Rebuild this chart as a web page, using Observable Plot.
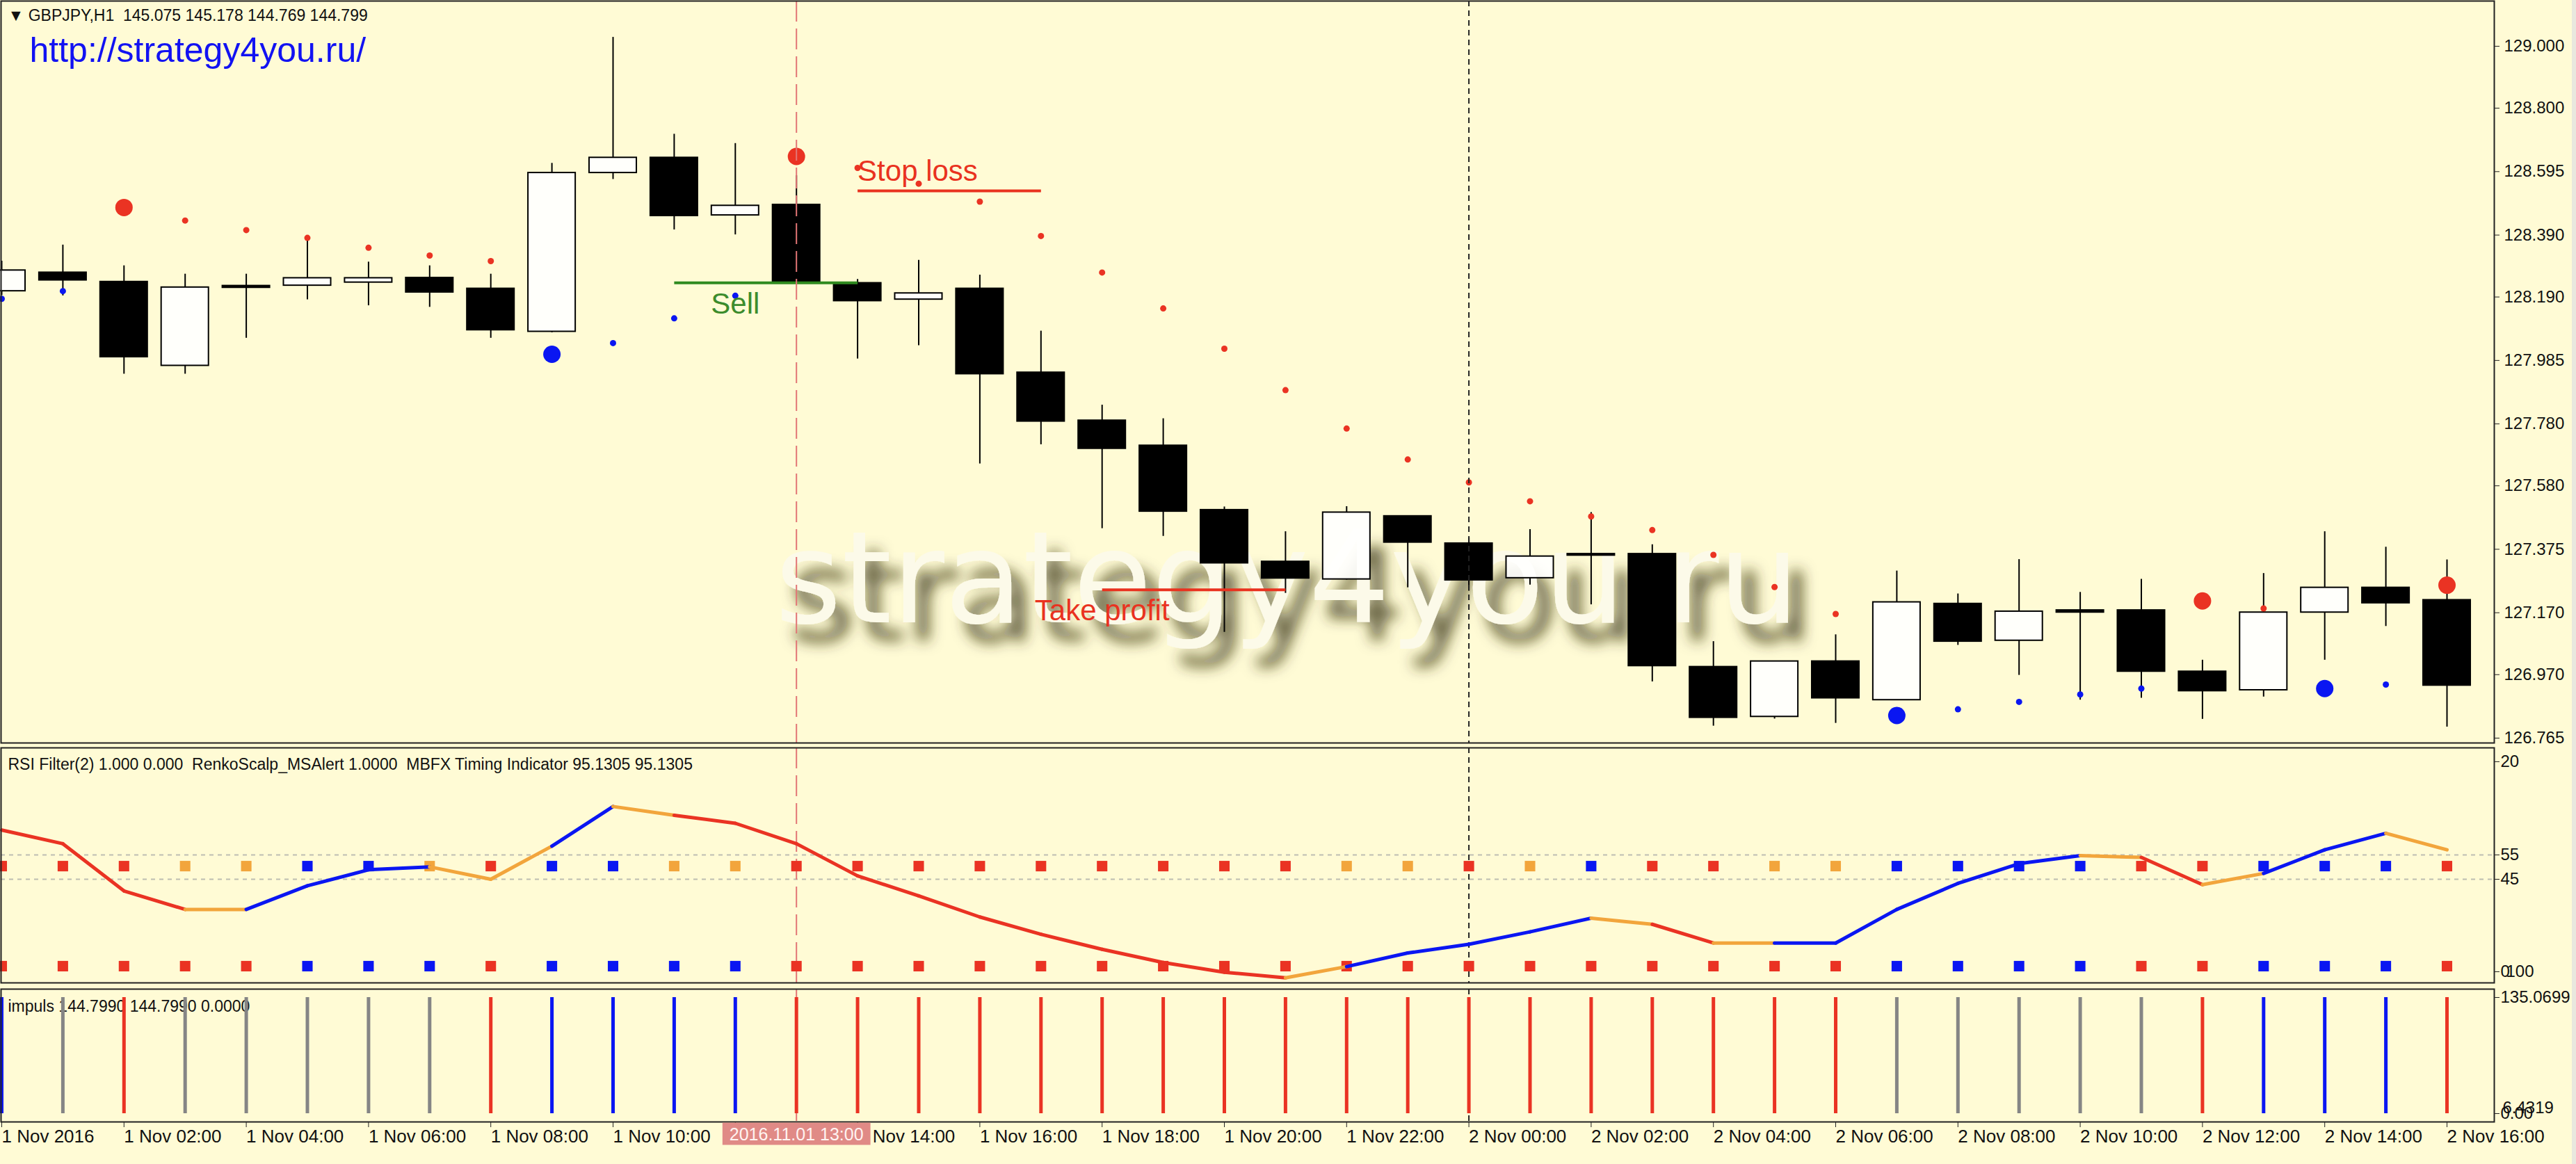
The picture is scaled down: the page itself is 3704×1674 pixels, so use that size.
<!DOCTYPE html>
<html>
<head>
<meta charset="utf-8">
<script src="https://cdn.jsdelivr.net/npm/d3@7"></script>
<script src="https://cdn.jsdelivr.net/npm/@observablehq/plot@0.6"></script>
<style>
  html, body { margin: 0; padding: 0; background: #fffbd5; overflow: hidden; }
  #chart { position: relative; width: 3704px; height: 1674px; background: #fffbd5; }
  #chart svg { display: block; }
  #chart::after { content: ""; position: absolute; right: 0; top: 0; width: 6px; height: 1674px; background: #e9e8de; }
</style>
</head>
<body>
<div id="chart"></div>
<script>
// ---------------- DATA (GBPJPY H1, 1 Nov 2016 00:00 .. 2 Nov 16:00) ----------------
const opens  = [128.209,128.269,128.239,127.968,128.226,128.227,128.237,128.252,128.217,128.078,
                128.591,128.640,128.454,128.488,128.235,128.182,128.217,127.946,127.791,127.710,
                127.502,127.335,127.278,127.482,127.394,127.282,127.360,127.360,126.995,126.834,
                127.013,126.888,127.199,127.080,127.178,127.178,126.980,126.920,127.171,127.251,127.211];
const highs  = [128.306,128.358,128.291,128.264,128.264,128.381,128.303,128.291,128.264,128.622,
                129.029,128.716,128.686,128.582,128.247,128.309,128.261,128.080,127.841,127.797,
                127.512,127.432,127.513,127.482,127.412,127.439,127.494,127.390,127.077,127.013,
                127.099,127.305,127.231,127.342,127.236,127.278,127.017,127.297,127.432,127.382,127.341];
const lows   = [128.195,128.194,127.941,127.941,128.057,128.181,128.162,128.157,128.057,128.075,
                128.570,128.407,128.391,128.236,127.990,128.033,127.651,127.713,127.442,127.417,
                127.107,127.233,127.276,127.251,127.240,127.260,127.196,126.947,126.804,126.827,
                126.813,126.888,127.065,126.968,126.888,126.894,126.826,126.898,127.017,127.126,126.801];
const closes = [128.276,128.244,127.996,128.221,128.220,128.251,128.251,128.205,128.083,128.591,
                128.640,128.452,128.485,128.239,128.177,128.202,127.941,127.788,127.700,127.497,
                127.330,127.281,127.494,127.397,127.275,127.352,127.355,126.998,126.831,127.013,
                126.894,127.204,127.077,127.174,127.171,126.980,126.917,127.171,127.251,127.201,126.935];

// Parabolic-SAR style dots: value, side (b = below/blue, r = above/red), big dots at flips
const sarValues = [128.184,128.209,128.479,128.437,128.406,128.381,128.349,128.324,128.306,128.005,
                   128.041,128.121,128.194,128.644,128.607,128.556,128.498,128.387,128.269,128.153,
                   128.023,127.889,127.765,127.665,127.591,127.530,127.481,127.437,127.357,127.253,
                   127.166,126.838,126.858,126.882,126.906,126.925,127.208,127.184,126.925,126.938,127.259];
const sarSide = ["b","b","r","r","r","r","r","r","r","b","b","b","b","r","r","r","r","r","r","r",
                 "r","r","r","r","r","r","r","r","r","r","r","b","b","b","b","b","r","r","b","b","r"];
const sarBig = [2, 9, 13, 31, 36, 38, 40];

// Trade annotations
const tradeNames   = ["Sell", "Stop loss", "Take profit"];
const tradePrices  = [128.236, 128.533, 127.244];
const tradeFrom    = [11, 14, 18];
const tradeTo      = [14, 17, 21];
const tradeLabelAt = [12, 14, 18];

// MBFX Timing line (0..100) and colour state of each segment ending at the bar
const mbfxValues = [65.2,59.6,40.2,32.6,32.6,42.3,48.9,50.1,45.0,58.6,
                    74.9,71.3,68.0,59.6,46.4,38.2,29.5,22.4,16.2,10.8,
                    6.8,4.5,9.1,14.7,18.3,23.4,29.0,26.5,18.8,18.8,
                    18.8,32.6,43.3,51.4,54.7,54.0,42.8,47.4,57.1,63.9,57.1];
const mbfxState  = ["r","r","r","r","o","b","b","b","o","o","b","o","r","r","r","r","r","r","r","r",
                    "r","r","o","b","b","b","b","o","r","o","b","b","b","b","b","o","r","o","b","b","o"];
const rsiLevels  = [55, 45];
// Signal square rows (RSI Filter / RenkoScalp)
const upperSignals = ["r","r","r","o","o","b","b","o","r","b","b","o","o","r","r","r","r","r","r","r",
                      "r","r","o","o","r","o","b","r","r","o","o","b","b","b","b","r","r","b","b","b","r"];
const lowerSignals = ["r","r","r","r","r","b","b","b","r","b","b","b","b","r","r","r","r","r","r","r",
                      "r","r","r","r","r","r","r","r","r","r","r","b","b","b","b","r","r","b","b","b","r"];
const rsiTickValues = [93.3, 55, 45, 7];
const rsiTickLabels = ["20", "55", "45", "0"];

// impuls histogram
const impulseValues = [135.0699,135.0699,135.0699,135.0699,135.0699,135.0699,135.0699,135.0699,135.0699,135.0699,
                       135.0699,135.0699,135.0699,135.0699,135.0699,135.0699,135.0699,135.0699,135.0699,135.0699,
                       135.0699,135.0699,135.0699,135.0699,135.0699,135.0699,135.0699,135.0699,135.0699,135.0699,
                       135.0699,135.0699,135.0699,135.0699,135.0699,135.0699,135.0699,135.0699,135.0699,135.0699,135.0699];
const impulseColors = ["b","g","r","g","g","g","g","g","r","b","b","b","b","r","r","r","r","r","r","r",
                       "r","r","r","r","r","r","r","r","r","r","r","g","g","g","g","g","r","b","b","b","r"];

// axes
const priceTicks = [129.000,128.800,128.595,128.390,128.190,127.985,127.780,127.580,127.375,127.170,126.970,126.765];
const tickHours  = [0,2,4,6,8,10,12,14,16,18,20,22,24,26,28,30,32,34,36,38,40];
const tickLabels = ["1 Nov 2016","1 Nov 02:00","1 Nov 04:00","1 Nov 06:00","1 Nov 08:00","1 Nov 10:00",
                    "1 Nov 12:00","1 Nov 14:00","1 Nov 16:00","1 Nov 18:00","1 Nov 20:00","1 Nov 22:00",
                    "2 Nov 00:00","2 Nov 02:00","2 Nov 04:00","2 Nov 06:00","2 Nov 08:00","2 Nov 10:00",
                    "2 Nov 12:00","2 Nov 14:00","2 Nov 16:00"];
const selectedBar = 13;
const selectedLabel = "2016.11.01 13:00";
const dayBreakBar = 24;

const headerText = "\u25BC GBPJPY,H1\u00A0 145.075 145.178 144.769 144.799";
const urlText = "http://strategy4you.ru/";
const watermarkText = "strategy4you.ru";
const rsiTitle = "RSI Filter(2) 1.000 0.000\u00A0 RenkoScalp_MSAlert 1.0000\u00A0 MBFX Timing Indicator 95.1305 95.1305";
const impTitle = "impuls 144.7990 144.7990 0.0000";

// ---------------- BUILD ----------------
const COL = {r: "#ea3323", o: "#f2a53c", b: "#0a16f2", g: "#858585"};
const FONT = "'Liberation Sans', Arial, sans-serif";
const BODY_HALF = 0.387;
const X = {type: "linear", domain: [0, 40], range: [2, 3518], axis: null, label: null};
const baseStyle = {background: "transparent", fontFamily: FONT, fontSize: "24px", color: "#111", overflow: "visible"};

const idx = d3.range(opens.length);
const bars = idx.map(i => ({i, open: opens[i], high: highs[i], low: lows[i], close: closes[i]}));
const sar = idx.map(i => ({i, v: sarValues[i], side: sarSide[i], big: sarBig.includes(i)}));
const trades = tradeNames.map((name, k) => ({name, price: tradePrices[k], from: tradeFrom[k], to: tradeTo[k], at: tradeLabelAt[k]}));
const segs = idx.slice(1).map(i => ({x1: i - 1, y1: mbfxValues[i - 1], x2: i, y2: mbfxValues[i], c: mbfxState[i]}));
const upper = idx.map(i => ({i, c: upperSignals[i]}));
const lower = idx.map(i => ({i, c: lowerSignals[i]}));
const impulse = idx.map(i => ({i, v: impulseValues[i], c: impulseColors[i]}));
const labelMap = new Map(tickHours.map((h, k) => [h, tickLabels[k]]));
const rsiLabelMap = new Map(rsiTickValues.map((v, k) => [v, rsiTickLabels[k]]));

const redDash = {stroke: "#e27676", strokeWidth: 2, strokeDasharray: "30,10"};
const blackDot = {stroke: "#222", strokeWidth: 2, strokeDasharray: "8,6"};
const GREEN = "#2f8a1f", RED = "#e9321f";

const main = Plot.plot({
  width: 3704, height: 1072,
  marginTop: 1, marginBottom: 4, marginLeft: 1, marginRight: 118,
  style: baseStyle,
  x: X,
  y: {type: "linear", domain: [126.765, 129.0], range: [1061, 66], axis: null, label: null},
  color: {type: "identity"},
  marks: [
    Plot.text([watermarkText], {frameAnchor: "middle", dx: 57, dy: 301, text: d => d,
      fontSize: 184, fontFamily: "'DejaVu Sans', Verdana, sans-serif", fill: "#fcfae9"}),
    Plot.ruleX(bars, {x: "i", y1: d => Math.max(d.open, d.close), y2: "high", stroke: "#000", strokeWidth: 2}),
    Plot.ruleX(bars, {x: "i", y1: "low", y2: d => Math.min(d.open, d.close), stroke: "#000", strokeWidth: 2}),
    Plot.rect(bars.filter(d => d.close >= d.open), {x1: d => d.i - BODY_HALF, x2: d => d.i + BODY_HALF,
      y1: "open", y2: "close", fill: "#ffffff", fillOpacity: 0.9, stroke: "#000", strokeWidth: 2}),
    Plot.rect(bars.filter(d => d.close < d.open), {x1: d => d.i - BODY_HALF, x2: d => d.i + BODY_HALF,
      y1: "open", y2: "close", fill: "#000000", stroke: "#000", strokeWidth: 2}),
    Plot.dot(sar.filter(d => !d.big), {x: "i", y: "v", r: 4.5, fill: d => COL[d.side], stroke: null}),
    Plot.dot(sar.filter(d => d.big), {x: "i", y: "v", r: 12.5, fill: d => COL[d.side], stroke: null}),
    Plot.link(trades, {x1: "from", x2: "to", y1: "price", y2: "price",
      stroke: d => d.name === "Sell" ? GREEN : RED, strokeWidth: 4}),
    Plot.text(trades.filter(d => d.name === "Sell"), {x: "at", y: "price", text: "name", dy: 31,
      fontSize: 42, fill: "#3c8c2c"}),
    Plot.text(trades.filter(d => d.name === "Stop loss"), {x: "at", y: "price", text: "name", dy: -28,
      textAnchor: "start", fontSize: 42, fill: RED}),
    Plot.text(trades.filter(d => d.name === "Take profit"), {x: "at", y: "price", text: "name", dy: 30,
      fontSize: 42, fill: RED}),
    Plot.ruleX([selectedBar], redDash),
    Plot.ruleX([dayBreakBar], blackDot),
    Plot.text([headerText], {frameAnchor: "top-left", dx: 10, dy: 12, lineAnchor: "top", textAnchor: "start",
      text: d => d, fontSize: 23, fill: "#111"}),
    Plot.text([urlText], {frameAnchor: "top-left", dx: 41, dy: 52, lineAnchor: "top", textAnchor: "start",
      text: d => d, fontSize: 50, fill: "#1212f2"}),
    Plot.frame({stroke: "#222", strokeWidth: 2}),
    Plot.axisY({anchor: "right", label: null, ticks: priceTicks, tickFormat: d => d.toFixed(3), tickSize: 7, tickPadding: 7,
      fontSize: 24, stroke: "#222", fill: "#111"})
  ]
});

const rsi = Plot.plot({
  width: 3704, height: 346,
  marginTop: 3, marginBottom: 5, marginLeft: 1, marginRight: 118,
  style: baseStyle,
  x: X,
  y: {type: "linear", domain: [0, 100], range: [349.5, -0.5], axis: null, label: null},
  color: {type: "identity"},
  marks: [
    Plot.ruleY(rsiLevels, {stroke: "#bdbdb2", strokeWidth: 2, strokeDasharray: "6,6"}),
    Plot.ruleX([selectedBar], redDash),
    Plot.ruleX([dayBreakBar], blackDot),
    Plot.dot(upper, {x: "i", y: d => 50.4, symbol: "square", r: 8.5, fill: d => COL[d.c], stroke: null}),
    Plot.dot(lower, {x: "i", y: d => 9.3, symbol: "square", r: 8.5, fill: d => COL[d.c], stroke: null}),
    Plot.link(segs, {x1: "x1", y1: "y1", x2: "x2", y2: "y2", stroke: d => COL[d.c], strokeWidth: 5, strokeLinecap: "round"}),
    Plot.text([rsiTitle], {frameAnchor: "top-left", dx: 10, dy: 15, lineAnchor: "top", textAnchor: "start",
      text: d => d, fontSize: 23, fill: "#111"}),
    Plot.frame({stroke: "#222", strokeWidth: 2}),
    Plot.axisY({anchor: "right", label: null, ticks: rsiTickValues, tickFormat: d => rsiLabelMap.get(d), tickSize: 7, tickPadding: 2,
      fontSize: 24, stroke: "#222", fill: "#111"}),
    Plot.axisY({anchor: "right", label: null, ticks: [rsiTickValues[3]], tickFormat: () => "100", tickSize: 0, tickPadding: 17,
      fontSize: 24, fill: "#111"})
  ]
});

const imp = Plot.plot({
  width: 3704, height: 256,
  marginTop: 4, marginBottom: 61, marginLeft: 1, marginRight: 118,
  style: baseStyle,
  x: X,
  y: {type: "linear", domain: [0, 135.0699], range: [183, 16], axis: null, label: null},
  color: {type: "identity"},
  marks: [
    Plot.text([impTitle], {frameAnchor: "top-left", dx: 10, dy: 16, lineAnchor: "top", textAnchor: "start",
      text: d => d, fontSize: 23, fill: "#111"}),
    Plot.ruleX([selectedBar], redDash),
    Plot.ruleX([dayBreakBar], blackDot),
    Plot.ruleX(impulse, {x: "i", y1: d => 0, y2: "v", stroke: d => COL[d.c], strokeWidth: 5}),
    Plot.frame({stroke: "#222", strokeWidth: 2}),
    Plot.axisY({anchor: "right", label: null, ticks: [135.0699, 0], tickFormat: d => d === 0 ? "0.00" : "135.0699",
      tickSize: 7, tickPadding: 2, fontSize: 24, stroke: "#222", fill: "#111"}),
    Plot.axisY({anchor: "right", label: null, ticks: [6.4319], tickFormat: () => "6.4319", tickSize: 0, tickPadding: 12,
      fontSize: 24, fill: "#111"}),
    Plot.axisX({anchor: "bottom", label: null, ticks: tickHours, tickFormat: d => labelMap.get(d), tickSize: 8, tickPadding: 3,
      textAnchor: "start", fontSize: 26, stroke: "#222", fill: "#111"}),
    Plot.text([selectedLabel], {x: () => selectedBar, frameAnchor: "bottom", dy: 26, text: d => d,
      fontSize: 25, fill: "#fff3f1"})
  ]
});

const chart = document.getElementById("chart");
chart.append(main, rsi, imp);

// watermark shadow filter
const sm = d3.select(main);
const defs = sm.insert("defs", ":first-child");
const f = defs.append("filter").attr("id", "wmShadow")
  .attr("x", "-5%").attr("y", "-40%").attr("width", "115%").attr("height", "200%");
f.append("feGaussianBlur").attr("in", "SourceAlpha").attr("stdDeviation", 10).attr("result", "blur");
f.append("feOffset").attr("in", "blur").attr("dx", 20).attr("dy", 26).attr("result", "off");
f.append("feFlood").attr("flood-color", "#37320f").attr("flood-opacity", 0.78).attr("result", "col");
f.append("feComposite").attr("in", "col").attr("in2", "off").attr("operator", "in").attr("result", "shadow");
const fm = f.append("feMerge");
fm.append("feMergeNode").attr("in", "shadow");
fm.append("feMergeNode").attr("in", "SourceGraphic");
sm.selectAll("text").filter(function() { return this.textContent === watermarkText; })
  .attr("filter", "url(#wmShadow)");

// highlighted time label background (same transform as the text it sits behind)
d3.select(imp).selectAll("text").filter(function() { return this.textContent === selectedLabel; })
  .each(function() {
    const bb = this.getBBox();
    const t = this.getAttribute("transform");
    const r = d3.select(this.parentNode).insert("rect", () => this)
      .attr("x", bb.x - 10).attr("y", bb.y - 2)
      .attr("width", bb.width + 20).attr("height", bb.height + 4)
      .attr("fill", "#e08a86");
    if (t) r.attr("transform", t);
  });
</script>
</body>
</html>
